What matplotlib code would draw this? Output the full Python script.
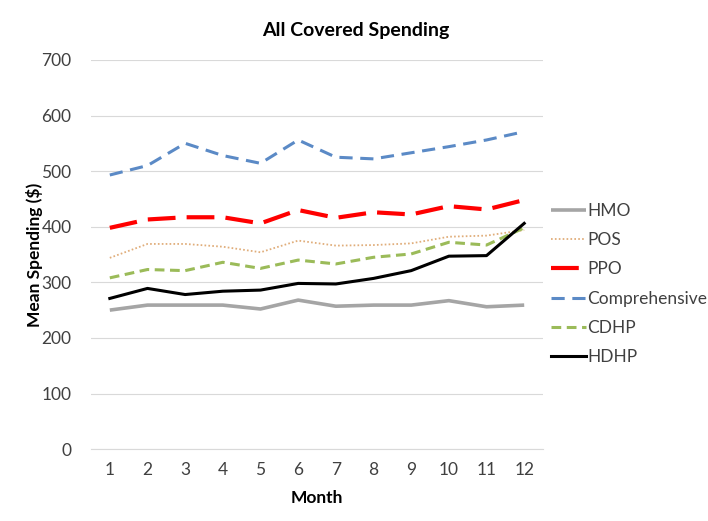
import matplotlib
matplotlib.use("Agg")
import matplotlib.pyplot as plt

plt.rcParams['font.family'] = ['Lato', 'DejaVu Sans']
plt.rcParams['lines.scale_dashes'] = False

months = list(range(1, 13))
hmo = [250, 259, 259, 259, 252, 268, 257, 259, 259, 267, 256, 259]
pos = [344, 369, 369, 364, 354, 375, 366, 367, 370, 382, 384, 394]
ppo = [398, 413, 417, 417, 406, 430, 416, 426, 422, 437, 431, 448]
comprehensive = [493, 510, 550, 528, 514, 556, 525, 522, 533, 544, 556, 571]
cdhp = [308, 323, 321, 336, 325, 340, 333, 345, 351, 372, 367, 398]
hdhp = [271, 289, 278, 284, 286, 298, 297, 307, 321, 347, 348, 406]

fig = plt.figure(figsize=(7.08, 5.21), dpi=100)
ax = fig.add_axes([0.1285, 0.138, 0.6385, 0.747])

ax.plot(months, hmo, color='#A5A5A5', lw=2.6, label='HMO', solid_capstyle='butt')
ax.plot(months, pos, color='#E0AD7A', lw=1.3, dashes=(1.2, 1.6), label='POS')
ax.plot(months, ppo, color='#FF0000', lw=3.0, dashes=(20, 8), label='PPO')
ax.plot(months, comprehensive, color='#5B8AC6', lw=2.2, dashes=(9.5, 5.5), label='Comprehensive')
ax.plot(months, cdhp, color='#9BBB59', lw=2.2, dashes=(7, 4), label='CDHP')
ax.plot(months, hdhp, color='#000000', lw=2.2, label='HDHP')

ax.set_xlim(0.5, 12.5)
ax.set_ylim(0, 700)
ax.set_xticks(months)
ax.set_yticks(range(0, 701, 100))
ax.grid(axis='y', color='#D9D9D9', lw=0.8)
ax.set_axisbelow(True)
for s in ['top', 'right', 'left']:
    ax.spines[s].set_visible(False)
ax.spines['bottom'].set_color('#D9D9D9')
ax.spines['bottom'].set_linewidth(0.8)
ax.tick_params(length=0, labelsize=12.5, colors='#404040', pad=9)
ax.tick_params(axis='y', pad=14)

ax.set_xlabel('Month', fontsize=12.5, fontweight='bold', labelpad=9)
ax.set_ylabel('Mean Spending ($)', fontsize=12.5, fontweight='bold', labelpad=-1)
fig.text(0.502, 0.942, 'All Covered Spending', ha='center', va='center',
         fontsize=14, fontweight='bold')

leg = ax.legend(loc='upper left', bbox_to_anchor=(1.002, 0.65), frameon=False,
                fontsize=12.5, handlelength=2.0, handletextpad=0.1,
                labelspacing=0.76, borderaxespad=0)
for t in leg.get_texts():
    t.set_color('#404040')

fig.savefig('out.png', dpi=100)
